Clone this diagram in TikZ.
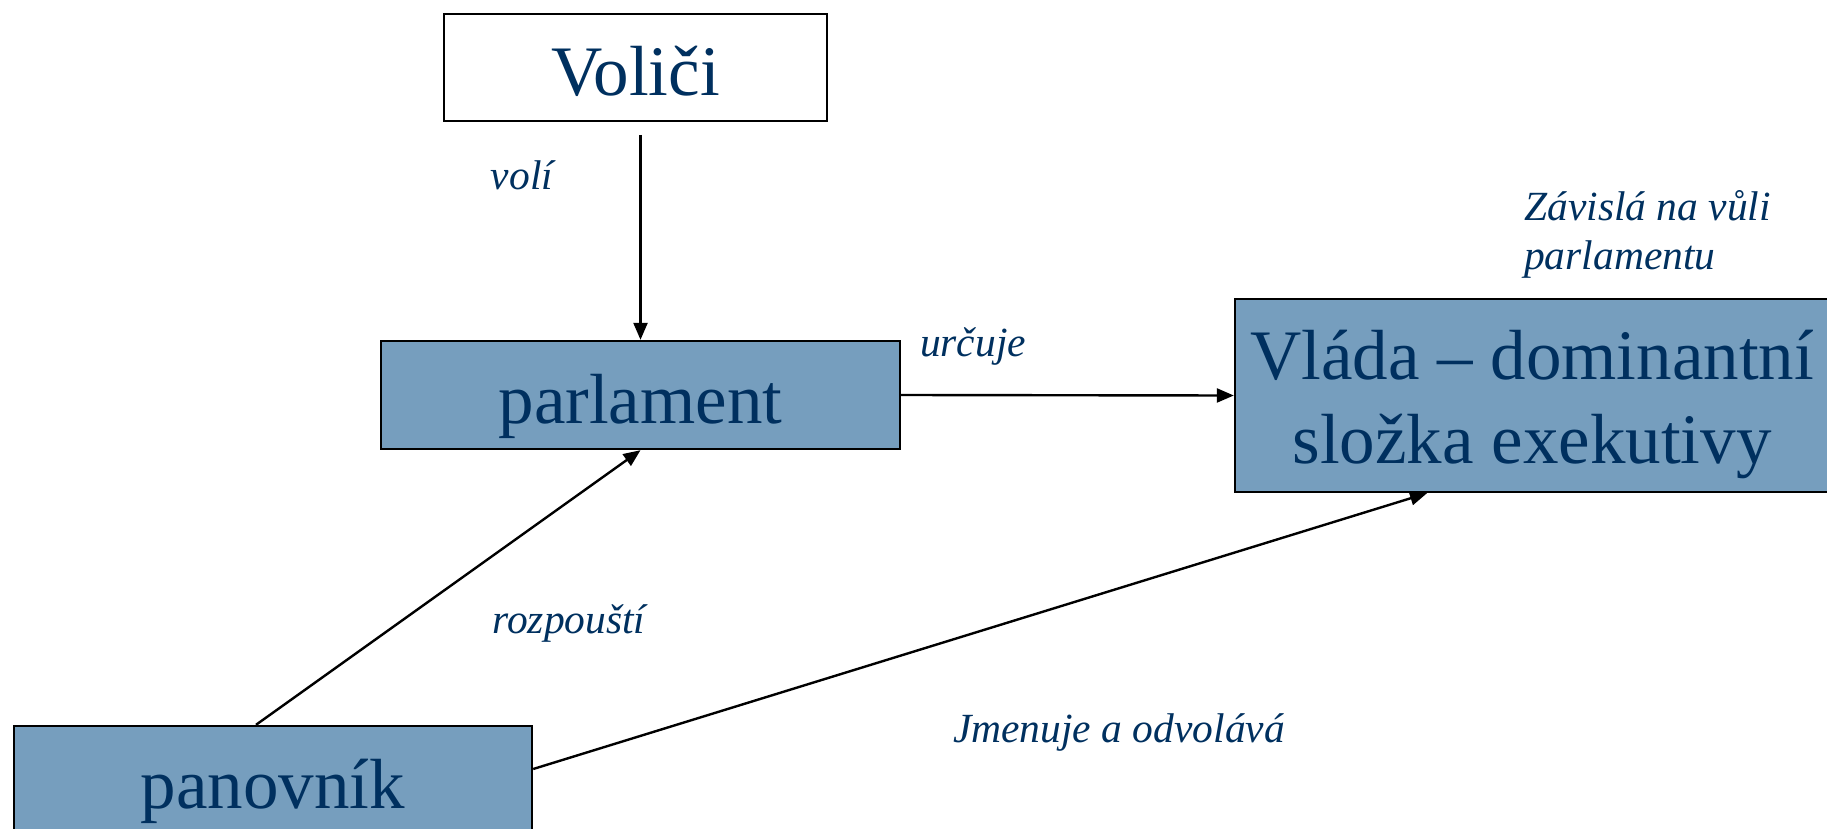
\documentclass[tikz,border=0pt]{standalone}
\usepackage{fontspec}
\setmainfont{Liberation Serif}
\usetikzlibrary{arrows.meta}
\definecolor{navy}{HTML}{00305F}
\definecolor{boxblue}{HTML}{769EBE}
\tikzset{
  bigbox/.style={draw=black, line width=2.4pt, inner sep=0pt, text=navy,
    font=\fontsize{71}{84}\selectfont, text height=56pt, text depth=0pt},
  bluebox/.style={bigbox, fill=boxblue},
  lbl/.style={text=navy, inner sep=0pt, font=\fontsize{41.5}{49}\selectfont\itshape},
  arr/.style={line width=2.4pt, -{Triangle[length=17pt,width=14pt]}}
}
\begin{document}
\begin{tikzpicture}[x=1pt,y=1pt]
\useasboundingbox (0,0) rectangle (1827,-829);
\clip (0,0) rectangle (1827,-829);
\node[bigbox, fill=white, minimum width=383pt, minimum height=107pt] (voli) at (635.5,-67.5) {Voliči};
\node[bluebox, minimum width=519pt, minimum height=108pt] (parl) at (640.5,-395) {parlament};
\node[bluebox, minimum width=518pt, minimum height=108pt] (pan) at (273,-780) {panovník};
\node[draw=black, line width=2.4pt, fill=boxblue, inner sep=0pt, text=navy,
  font=\fontsize{71}{84}\selectfont, align=center,
  minimum width=594pt, minimum height=193pt] (vlada) at (1532,-395.5)
  {\rule{0pt}{68pt}Vláda – dominantní\\složka exekutivy};
\coordinate (vstart) at (640.5,-135);
\draw[arr] (vstart) -- (parl.north);
\draw[arr] (parl.east) -- (vlada.west);
\draw[arr] ([xshift=-17pt]pan.north) -- (parl.south);
\draw[arr] ([yshift=11pt]pan.east) -- ([xshift=-105pt]vlada.south);
\node[lbl] (lvoli) at (522,-175) {volí};
\node[lbl] (lurc) at (973,-346) {určuje};
\node[lbl, anchor=west, align=left] (lzav) at (1524,-234) {Závislá na vůli\\parlamentu};
\node[lbl] (lroz) at (569,-623) {rozpouští};
\node[lbl] (ljm) at (1119,-732) {Jmenuje a odvolává};
\end{tikzpicture}
\end{document}
